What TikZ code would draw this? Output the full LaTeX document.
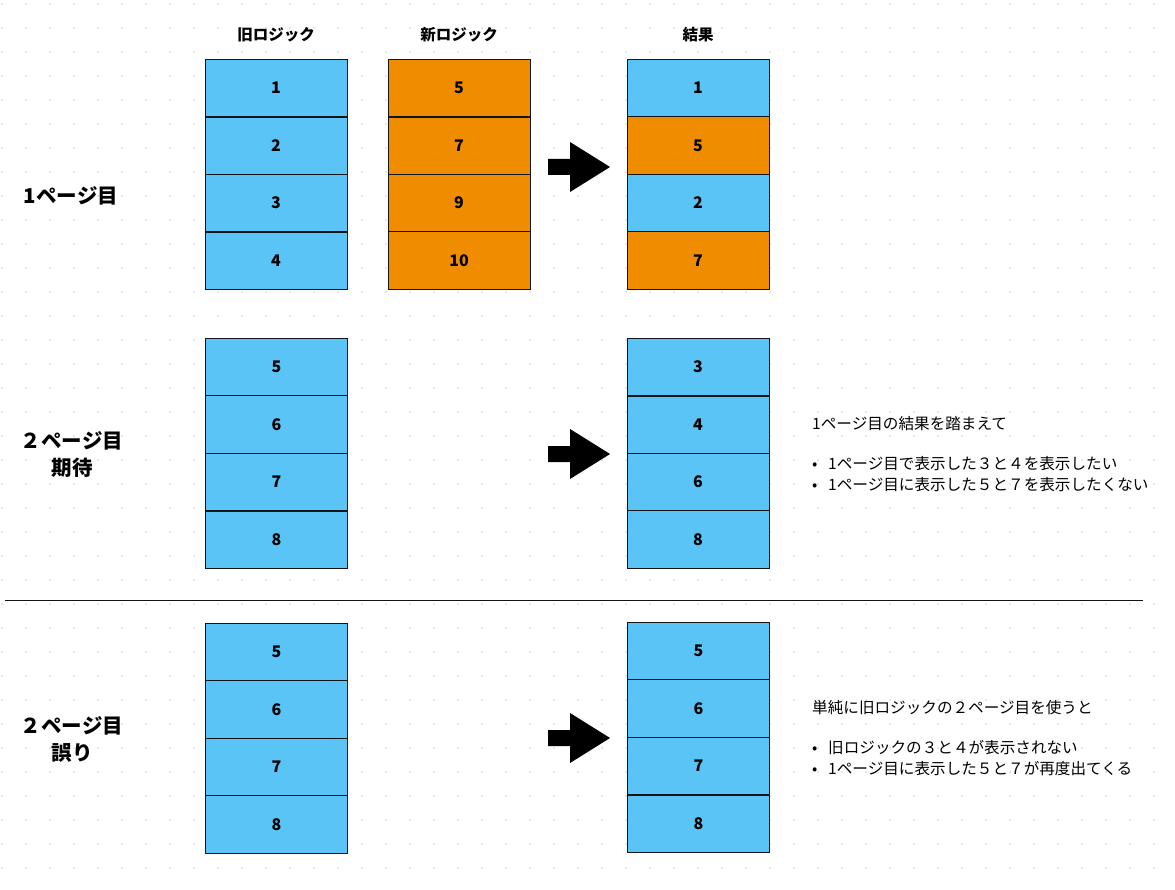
\documentclass[tikz,border=0pt]{standalone}
\usepackage{fontspec}
\setmainfont{Noto Sans CJK JP}
\definecolor{cblue}{HTML}{5BC4F6}
\definecolor{corange}{HTML}{F08C00}
\definecolor{linec}{HTML}{111418}
\definecolor{dotc}{HTML}{D8D8D8}
\begin{document}
\begin{tikzpicture}[x=1pt,y=-1pt,
  cell/.style={draw=linec, line width=0.8pt, minimum width=142pt, minimum height=57.5pt, inner sep=0pt, font=\fontsize{16}{18}\selectfont\bfseries},
  bluec/.style={cell, fill=cblue},
  orangec/.style={cell, fill=corange},
  head/.style={inner sep=0pt, font=\fontsize{15.5}{18}\selectfont\bfseries},
  rowlab/.style={inner sep=0pt, align=center, font=\fontsize{20.5}{27}\selectfont\bfseries},
  note/.style={inner sep=0pt, anchor=west, font=\fontsize{15.6}{18}\selectfont},
  thick sep/.style={draw=linec, line width=1.8pt},
  bigarrow/.style={fill=black}]
\useasboundingbox (0,0) rectangle (1175,890);
\fill[white] (0,0) rectangle (1175,890);
% dot grid
\foreach \i in {0,...,48}
  \foreach \j in {0,...,36}
    \fill[dotc] ({2+24*\i},{4+24*\j}) circle (1pt);

% headers
\node[head] (h-old) at (276,35) {旧ロジック};
\node[head] (h-new) at (459,35) {新ロジック};
\node[head] (h-res) at (698,35) {結果};

% row labels
\node[rowlab] (l1) at (71,196) {1ページ目};
\node[rowlab] (l2) at (72,455) {２ページ目\\期待};
\node[rowlab] (l3) at (72,739) {２ページ目\\誤り};

% row 1
\foreach \lab [count=\i] in {1,2,3,4}
  \node[bluec] (o1-\i) at (276,{30.25+57.5*\i}) {\lab};
\foreach \lab [count=\i] in {5,7,9,10}
  \node[orangec] (n1-\i) at (459,{30.25+57.5*\i}) {\lab};
\node[bluec] (r1-1) at (698,88) {1};
\node[orangec] (r1-2) at (698,145.5) {5};
\node[bluec] (r1-3) at (698,203) {2};
\node[orangec] (r1-4) at (698,260.5) {7};
\draw[thick sep] (o1-1.south west) -- (o1-1.south east);
\draw[thick sep] (o1-3.south west) -- (o1-3.south east);
\draw[thick sep] (n1-1.south west) -- (n1-1.south east);

% row 2
\foreach \lab [count=\i] in {5,6,7,8}
  \node[bluec] (o2-\i) at (276.5,{309.25+57.5*\i}) {\lab};
\foreach \lab [count=\i] in {3,4,6,8}
  \node[bluec] (r2-\i) at (698,{309.25+57.5*\i}) {\lab};
\draw[thick sep] (o2-3.south west) -- (o2-3.south east);
\draw[thick sep] (r2-1.south west) -- (r2-1.south east);

% row 3
\foreach \lab [count=\i] in {5,6,7,8}
  \node[bluec] (o3-\i) at (276.5,{594.25+57.5*\i}) {\lab};
\foreach \lab [count=\i] in {5,6,7,8}
  \node[bluec] (r3-\i) at (698.5,{593.25+57.5*\i}) {\lab};
\draw[thick sep] (r3-3.south west) -- (r3-3.south east);

% arrows
\foreach \n/\y in {a1/167,a2/454,a3/738}{
  \coordinate (\n) at (548,\y);
  \fill[bigarrow] (\n) ++(0,-8) -- ++(22,0) -- ++(0,-17) -- ++(40,25) -- ++(-40,25) -- ++(0,-17) -- ++(-22,0) -- cycle;
}

% divider
\coordinate (d1) at (5,600);
\coordinate (d2) at (1143,600);
\draw[line width=1pt, linec] (d1) -- (d2);

% notes
\node[note] (t2-0) at (812,424) {1ページ目の結果を踏まえて};
\node[note] (t2-1) at (812,464) {\makebox[16pt][l]{•}1ページ目で表示した３と４を表示したい};
\node[note] (t2-2) at (812,485) {\makebox[16pt][l]{•}1ページ目に表示した５と７を表示したくない};
\node[note] (t3-0) at (812,708) {単純に旧ロジックの２ページ目を使うと};
\node[note] (t3-1) at (812,748) {\makebox[16pt][l]{•}旧ロジックの３と４が表示されない};
\node[note] (t3-2) at (812,769) {\makebox[16pt][l]{•}1ページ目に表示した５と７が再度出てくる};
\end{tikzpicture}
\end{document}
